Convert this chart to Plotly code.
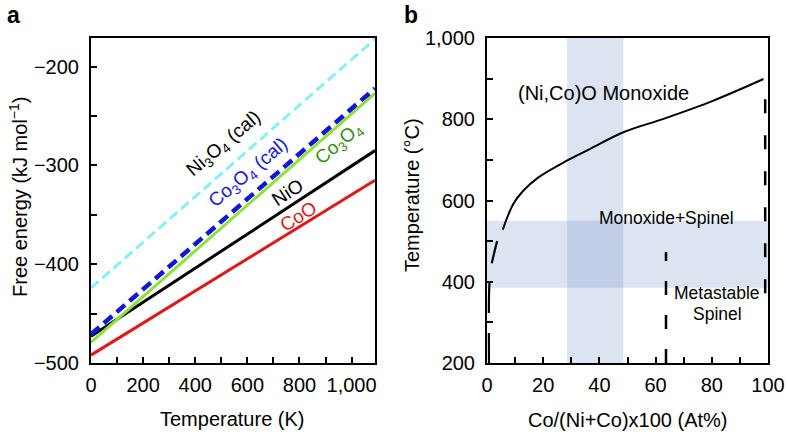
import plotly.graph_objects as go

# ---------------- Panel a data ----------------
temp_K = [0, 1090]
ni3o4_cal = [-424, -172]
co3o4_cal = [-471, -222]
co3o4 = [-479, -227]
nio = [-473, -285]
coo = [-492, -315]

# ---------------- Panel b data ----------------
curve_x = [5.6, 9.4, 12.9, 18.3, 28.4, 36.7, 48.5, 62.8, 80.6, 98.4]
curve_y = [528, 592, 624, 657, 698, 727, 768, 801, 846, 899]
left_dash_x = [0.7, 0.7, 0.9, 1.4, 2.6, 3.6]
left_dash_y = [200, 360, 400, 435, 472, 500]
mid_dash_x = [63.7, 63.7]
mid_dash_y = [200, 473]
right_dash_x = [99.0, 99.0]
right_dash_y = [372, 898]
vband_x = [28.5, 48.5]
hband_y = [385, 550]

FONT = "Liberation Sans, Arial, Helvetica, sans-serif"

fig = go.Figure()

def line(x, y, color, width, dash="solid", xa="x", ya="y", shape="linear"):
    fig.add_trace(go.Scatter(x=x, y=y, mode="lines", xaxis=xa, yaxis=ya,
                             line=dict(color=color, width=width, dash=dash, shape=shape),
                             showlegend=False, hoverinfo="skip"))

line(temp_K, coo, "#dd1a1a", 3)
line(temp_K, nio, "#000000", 3)
line(temp_K, co3o4, "#8fe23a", 3)
line(temp_K, co3o4_cal, "#1515d8", 4.5, "11px,6px")
line(temp_K, ni3o4_cal, "#86f0f6", 3, "10px,5px")

# panel b lines
line(curve_x, curve_y, "black", 2, xa="x2", ya="y2", shape="spline")
line(left_dash_x, left_dash_y, "black", 2.2, "30px,20px", xa="x2", ya="y2", shape="spline")
line(mid_dash_x, mid_dash_y, "black", 2.5, "14px,20px", xa="x2", ya="y2")
line(right_dash_x, right_dash_y, "black", 2.5, "14px,22px", xa="x2", ya="y2")

band = "rgba(125,150,205,0.27)"
fig.add_shape(type="rect", xref="x2", yref="y2", x0=vband_x[0], x1=vband_x[1],
              y0=200, y1=1000, fillcolor=band, line=dict(width=0), layer="below")
fig.add_shape(type="rect", xref="x2", yref="y2", x0=0, x1=100,
              y0=hband_y[0], y1=hband_y[1], fillcolor=band, line=dict(width=0), layer="below")

def axis(domain, rng, dtick, mdtick, sep=False, anchor=None):
    d = dict(domain=domain, range=rng, showgrid=False, zeroline=False,
             showline=True, linecolor="black", linewidth=2, mirror=True,
             ticks="inside", ticklen=6, tickwidth=1.5, tickcolor="black",
             dtick=dtick, tick0=0,
             minor=dict(dtick=mdtick, ticks="inside", ticklen=6, tickwidth=1.5, tickcolor="black"),
             tickfont=dict(family=FONT, size=20, color="black"),
             separatethousands=sep, automargin=False, fixedrange=True)
    if anchor:
        d["anchor"] = anchor
    return d

ydom = [1 - 363 / 432, 1 - 38 / 432]
fig.update_layout(
    width=788, height=432,
    margin=dict(l=0, r=0, t=0, b=0),
    paper_bgcolor="white", plot_bgcolor="white",
    font=dict(family=FONT, color="black", size=18),
    xaxis=axis([91 / 788, 375 / 788], [0, 1090], 200, 100, sep=True, anchor="y"),
    yaxis=axis(ydom, [-500, -171], 100, 50, anchor="x"),
    xaxis2=axis([487 / 788, 768 / 788], [0, 100], 20, 10, anchor="y2"),
    yaxis2=axis(ydom, [200, 1000], 200, 100, sep=True, anchor="x2"),
)
fig.update_xaxes(ticklabelstandoff=3)
fig.update_yaxes(ticklabelstandoff=6)

anns = []
def txt(x, y, s, color="black", size=17, angle=0, xref="x", yref="y", bold=False):
    anns.append(dict(x=x, y=y, xref=xref, yref=yref, text=s, showarrow=False,
                     textangle=angle, xanchor="center", yanchor="middle",
                     font=dict(family=FONT, size=size, color=color,
                               weight="bold" if bold else "normal")))

# panel a labels
txt(512, -278, "Ni<sub>3</sub>O<sub>4</sub> (cal)", "black", 19, -40)
txt(608, -308, "Co<sub>3</sub>O<sub>4</sub> (cal)", "#1a1ad0", 19, -40)
txt(952, -278, "Co<sub>3</sub>O<sub>4</sub>", "#3c8c12", 19, -40)
txt(753, -327, "NiO", "black", 19, -33)
txt(795, -352, "CoO", "#dd1a1a", 19, -32)

# panel b labels
txt(41.6, 865, "(Ni,Co)O Monoxide", "black", 20, xref="x2", yref="y2")
txt(64, 556, "Monoxide+Spinel", "black", 17.5, xref="x2", yref="y2")
txt(82, 372, "Metastable", "black", 17.5, xref="x2", yref="y2")
txt(82, 320, "Spinel", "black", 17.5, xref="x2", yref="y2")

# axis titles
txt(18 / 788, 1 - 197 / 432, "Free energy (kJ mol<sup>−1</sup>)", size=20, angle=-90, xref="paper", yref="paper")
txt(232 / 788, 1 - 419 / 432, "Temperature (K)", size=20, xref="paper", yref="paper")
txt(412 / 788, 1 - 195 / 432, "Temperature (°C)", size=20, angle=-90, xref="paper", yref="paper")
txt(628 / 788, 1 - 420 / 432, "Co/(Ni+Co)x100 (At%)", size=20, xref="paper", yref="paper")

# panel letters
txt(13 / 788, 1 - 15 / 432, "a", size=23, xref="paper", yref="paper", bold=True)
txt(411 / 788, 1 - 15 / 432, "b", size=23, xref="paper", yref="paper", bold=True)

fig.update_layout(annotations=anns)
fig.write_html("out.html", config={"displayModeBar": False},
               post_script="document.body.style.margin='0';document.body.style.overflow='hidden';")
